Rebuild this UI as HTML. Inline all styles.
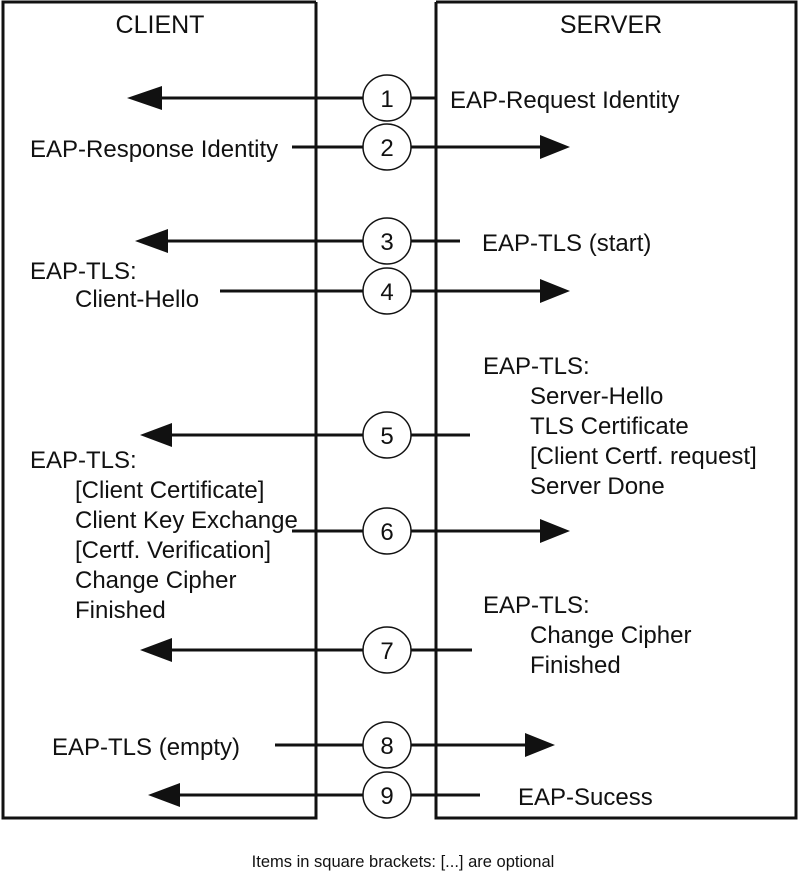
<!DOCTYPE html>
<html><head><style>
body{margin:0;background:#fff;}
svg text{font-family:"Liberation Sans",sans-serif;font-size:24px;fill:#111;}
</style></head><body>
<svg width="800" height="880" viewBox="0 0 800 880" xmlns="http://www.w3.org/2000/svg">
<g fill="none" stroke="#111" stroke-width="3">
<polyline points="316,2 316,818 3,818 3,2 316,2"/>
<polyline points="436,2 436,818 796,818 796,2 436,2"/>
</g>
<text x="160" y="33" text-anchor="middle" style="font-size:25px">CLIENT</text>
<text x="611" y="33" text-anchor="middle" style="font-size:25px">SERVER</text>
<g stroke="#111" stroke-width="3">
<line x1="155" y1="98" x2="436" y2="98"/>
<line x1="292" y1="147" x2="545" y2="147"/>
<line x1="160" y1="241" x2="460" y2="241"/>
<line x1="220" y1="291" x2="545" y2="291"/>
<line x1="165" y1="435" x2="470" y2="435"/>
<line x1="292" y1="531" x2="545" y2="531"/>
<line x1="165" y1="650" x2="472" y2="650"/>
<line x1="275" y1="745" x2="530" y2="745"/>
<line x1="172" y1="795" x2="480" y2="795"/>
</g>
<g fill="#111">
<polygon points="127,98 162,86 162,110"/>
<polygon points="570,147 540,135 540,159"/>
<polygon points="135,241 168,229 168,253"/>
<polygon points="570,291 540,279 540,303"/>
<polygon points="140,435 172,423 172,447"/>
<polygon points="570,531 540,519 540,543"/>
<polygon points="140,650 172,638 172,662"/>
<polygon points="555,745 525,733 525,757"/>
<polygon points="148,795 180,783 180,807"/>
</g>
<g fill="#fff" stroke="#111" stroke-width="1.5">
<ellipse cx="387" cy="98" rx="24" ry="23"/>
<ellipse cx="387" cy="147" rx="24" ry="23"/>
<ellipse cx="387" cy="241" rx="24" ry="23"/>
<ellipse cx="387" cy="291" rx="24" ry="23"/>
<ellipse cx="387" cy="435" rx="24" ry="23"/>
<ellipse cx="387" cy="531" rx="24" ry="23"/>
<ellipse cx="387" cy="650" rx="24" ry="23"/>
<ellipse cx="387" cy="745" rx="24" ry="23"/>
<ellipse cx="387" cy="795" rx="24" ry="23"/>
</g>
<g text-anchor="middle">
<text x="387" y="107">1</text><text x="387" y="156">2</text><text x="387" y="250">3</text>
<text x="387" y="300">4</text><text x="387" y="444">5</text><text x="387" y="540">6</text>
<text x="387" y="659">7</text><text x="387" y="754">8</text><text x="387" y="804">9</text>
</g>
<text x="450" y="108">EAP-Request Identity</text>
<text x="30" y="157">EAP-Response Identity</text>
<text x="482" y="251">EAP-TLS (start)</text>
<text x="30" y="279">EAP-TLS:</text>
<text x="75" y="307">Client-Hello</text>
<text x="483" y="374">EAP-TLS:</text>
<text x="530" y="404">Server-Hello</text>
<text x="530" y="434">TLS Certificate</text>
<text x="530" y="464">[Client Certf. request]</text>
<text x="530" y="494">Server Done</text>
<text x="30" y="468">EAP-TLS:</text>
<text x="75" y="498">[Client Certificate]</text>
<text x="75" y="528">Client Key Exchange</text>
<text x="75" y="558">[Certf. Verification]</text>
<text x="75" y="588">Change Cipher</text>
<text x="75" y="618">Finished</text>
<text x="483" y="613">EAP-TLS:</text>
<text x="530" y="643">Change Cipher</text>
<text x="530" y="673">Finished</text>
<text x="52" y="755">EAP-TLS (empty)</text>
<text x="518" y="805">EAP-Sucess</text>
<text x="403" y="867" text-anchor="middle" style="font-size:16.5px">Items in square brackets: [...] are optional</text>
</svg>
</body></html>
